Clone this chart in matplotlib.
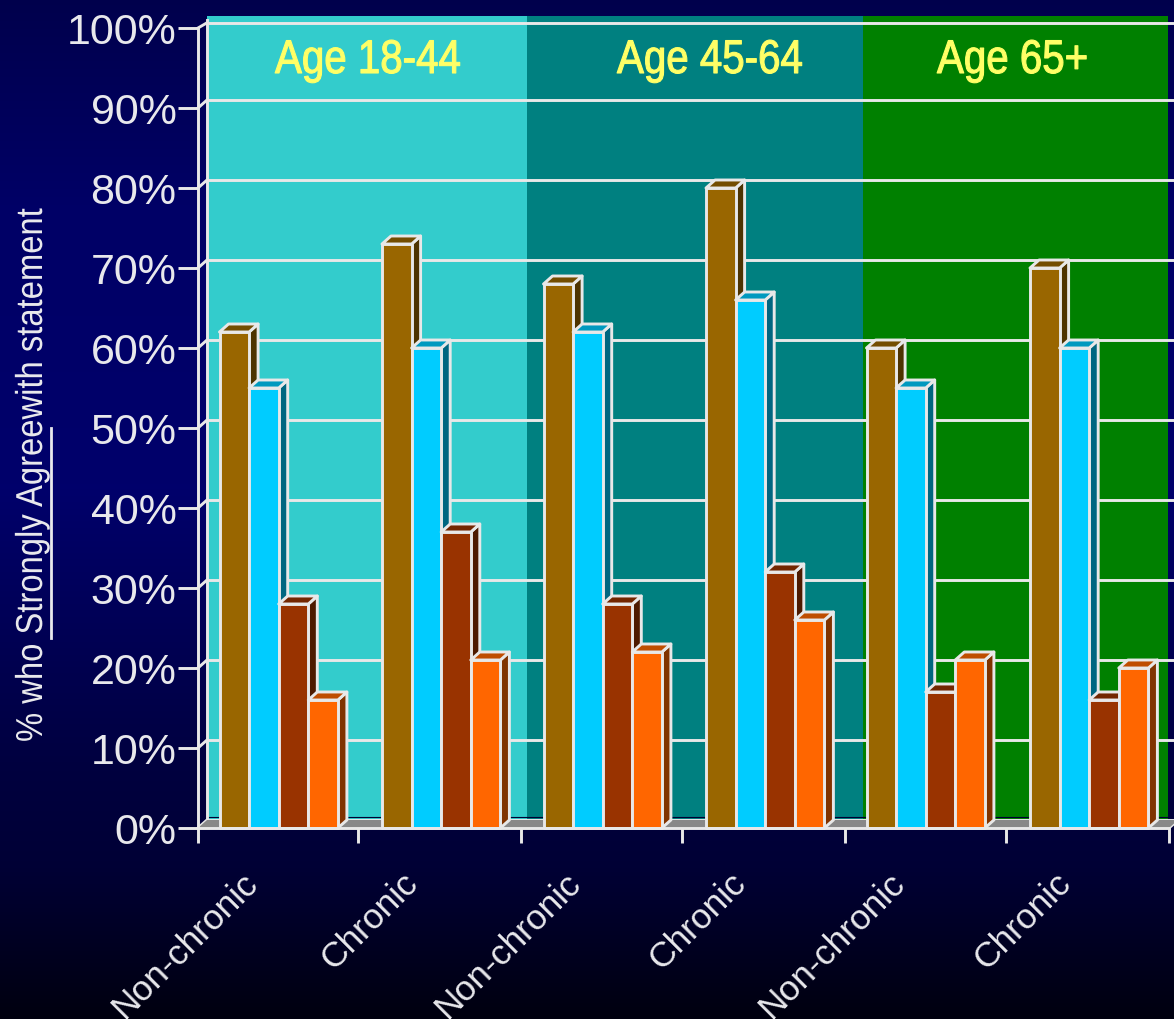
import numpy as np
import matplotlib
matplotlib.use("Agg")
import matplotlib.pyplot as plt
from matplotlib.patches import Polygon, Rectangle
from matplotlib.lines import Line2D
from matplotlib.patheffects import AbstractPathEffect
from matplotlib.transforms import Affine2D

# ---- data ----
categories = ["Non-chronic", "Chronic"] * 3
series_a = [62, 73, 68, 80, 60, 70]   # brown
series_b = [55, 60, 62, 66, 55, 60]   # cyan
series_c = [28, 37, 28, 32, 17, 16]   # rust
series_d = [16, 21, 22, 26, 21, 20]   # orange
age_labels = ["Age 18-44", "Age 45-64", "Age 65+"]
y_ticks = list(range(0, 101, 10))
y_tick_labels = [f"{v}%" for v in y_ticks]
y_title = "% who Strongly Agreewith statement"

# ---- style ----
W, H = 1174, 1019
LINE = "#e8e8e8"
TEXT = "#e8e8ec"
YELLOW = "#ffff66"
FACE = ["#996600", "#00ccff", "#993300", "#ff6600"]
TOP = ["#734d00", "#0099bf", "#732600", "#bf4d00"]
SIDE = ["#4d3300", "#006680", "#4d1a00", "#803300"]
WALLS = ["#33cccc", "#008080", "#008000"]
UNIT = 971 / 6
WALL_PX = [207, 527, 863, 1168]
WALL_EDGES = [(p - 198) / UNIT for p in WALL_PX]
TICK_PX = [198, 358, 521, 682, 845, 1006, 1169]
GROUP_PX = [219.5, 382, 543.5, 706, 866.5, 1030]
LABEL_SHIFT = [1, 0, 1, 4, 1, 6]
AGE_PX = [275, 617, 937]
SANS = ["Liberation Sans", "DejaVu Sans"]


class Squeeze(AbstractPathEffect):
    """Narrow a text along its own baseline (no condensed face is installed)."""

    def __init__(self, sx, stroke=0.0):
        super().__init__()
        self.sx = sx
        self.stroke = stroke

    def draw_path(self, renderer, gc, tpath, affine, rgbFace=None):
        gc0 = renderer.new_gc()
        gc0.copy_properties(gc)
        gc0.set_linewidth(self.stroke)
        gc0.set_foreground(rgbFace)
        renderer.draw_path(gc0, tpath, Affine2D().scale(self.sx, 1) + affine, rgbFace)
        gc0.restore()


fig = plt.figure(figsize=(W / 100, H / 100), dpi=100)

# background gradient
bg = fig.add_axes([0, 0, 1, 1], zorder=0)
bg.axis("off")
rows = np.linspace(0, 1, 512)
blue = np.interp(rows, [0, 0.2, 0.48, 0.75, 0.85, 1.0], [0.30, 0.40, 0.42, 0.25, 0.21, 0.06])
grad = np.zeros((512, 1, 3))
grad[:, 0, 2] = blue
bg.imshow(grad, aspect="auto", extent=[0, 1, 0, 1], origin="upper")

# main axes: front plane of the chart, 8 px per percent
ax = fig.add_axes([198 / W, (H - 828) / H, 971 / W, 800 / H], zorder=1)
ax.set_xlim(0, 6)
ax.set_ylim(0, 100)
ax.patch.set_alpha(0)
DX = 9 / UNIT
DY = 1.0
LW = 2.1

# back wall
for i, c in enumerate(WALLS):
    ax.add_patch(Rectangle((WALL_EDGES[i], DY), WALL_EDGES[i + 1] - WALL_EDGES[i], 100.5,
                           fc=c, ec="none", zorder=1, clip_on=False))

# back grid and side-wall diagonals
for v in y_ticks:
    yy = v + DY - (0.35 if v == 100 else 0)
    ax.add_line(Line2D([DX, 6 + DX], [yy, yy], color=LINE, lw=LW, zorder=2, clip_on=False))
    ax.add_line(Line2D([0, DX], [v, yy], color=LINE, lw=LW, zorder=2, clip_on=False))
ax.add_line(Line2D([DX, DX], [0 + DY, 100 + DY], color=LINE, lw=LW, zorder=2, clip_on=False))

# floor
ax.add_patch(Polygon([[0, 0], [DX, DY], [6 + DX, DY], [6, 0]], fc="#888888", ec="none",
                     zorder=2.5, clip_on=False))
ax.add_line(Line2D([DX, WALL_EDGES[-1]], [DY + 0.35, DY + 0.35], color="#000033", lw=0.8, zorder=1.6))

# 3D bars
BAR_W = 29.6 / UNIT
all_series = [series_a, series_b, series_c, series_d]
z = 3.0
for g in range(len(categories)):
    start = (GROUP_PX[g] - 198) / UNIT
    for s, vals in enumerate(all_series):
        v = vals[g]
        x0 = start + s * BAR_W
        x1 = x0 + BAR_W
        kw = dict(ec=LINE, lw=LW, joinstyle="round", clip_on=False)
        ax.add_patch(Polygon([[x1, 0], [x1 + DX, DY], [x1 + DX, v + DY], [x1, v]],
                             fc=SIDE[s], zorder=z, **kw))
        ax.add_patch(Polygon([[x0, v], [x0 + DX, v + DY], [x1 + DX, v + DY], [x1, v]],
                             fc=TOP[s], zorder=z, **kw))
        ax.add_patch(Rectangle((x0, 0), BAR_W, v, fc=FACE[s], zorder=z + 0.1, **kw))
        z += 0.2

# age headings
for px, t in zip(AGE_PX, age_labels):
    txt = fig.text(px / W, 1 - 73 / H, t, color=YELLOW, fontsize=34, family=SANS,
                   ha="left", va="baseline", zorder=50)
    txt.set_path_effects([Squeeze(0.853, stroke=0.8)])

# axes furniture
for k in ("top", "right"):
    ax.spines[k].set_visible(False)
for k in ("left", "bottom"):
    ax.spines[k].set_color(LINE)
    ax.spines[k].set_linewidth(LW)
    ax.spines[k].set_zorder(40)
ax.set_yticks(y_ticks, y_tick_labels, fontsize=31, color=TEXT, family=SANS)
ax.set_xticks([(p - 198) / UNIT for p in TICK_PX], [""] * 7)
ax.tick_params(axis="y", length=14.4, width=LW, color=LINE, pad=1)
ax.tick_params(axis="x", length=10.8, width=LW, color=LINE, pad=0)
ax.add_line(Line2D([6, 6 + DX], [0, DY], color=LINE, lw=LW, zorder=2, clip_on=False))

# category labels
for g, t in enumerate(categories):
    ax.annotate(t, xy=(g + 0.5, 0), xytext=(-28 + LABEL_SHIFT[g], -50), textcoords="offset pixels",
                rotation=45, rotation_mode="anchor", ha="right", va="center",
                fontsize=25.5, color=TEXT, family=SANS, annotation_clip=False)

# y title with underline
ytxt = fig.text(42 / W, 1 - 742 / H, y_title, rotation=90, rotation_mode="anchor", color=TEXT,
                fontsize=27, family=SANS, ha="left", va="baseline")
ytxt.set_path_effects([Squeeze(0.874)])
fig.add_artist(Line2D([51 / W, 51 / W], [1 - 428 / H, 1 - 638 / H], color=TEXT, lw=2.0))

fig.savefig("out.png", dpi=100)
